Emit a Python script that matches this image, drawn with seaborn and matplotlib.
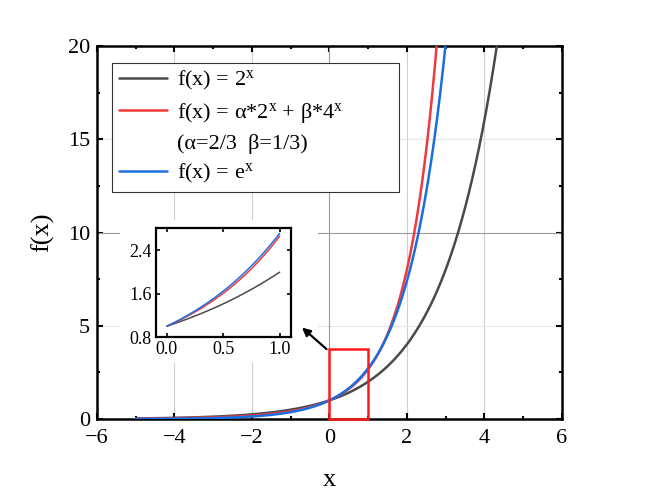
import numpy as np
import pandas as pd
import matplotlib
matplotlib.use("Agg")
import matplotlib.pyplot as plt
from matplotlib.patches import Rectangle
from matplotlib.lines import Line2D
import seaborn as sns

# ---- data ----
alpha = 2 / 3
beta = 1 / 3
x_range = [-5, 5]
inset_range = [0, 1]
series_names = ["2^x", "mix", "e^x"]
series_labels = [r"f(x) = 2$^{\mathrm{x}}$",
                 r"f(x) = α*2$^{\mathrm{x}}$ + β*4$^{\mathrm{x}}$",
                 r"f(x) = e$^{\mathrm{x}}$"]
param_label = "(α=2/3  β=1/3)"
series_colors = ["#4a4a4a", "#f0393c", "#1a6fe0"]
xticks_main = [-6, -4, -2, 0, 2, 4, 6]
yticks_main = [0, 5, 10, 15, 20]
xticks_inset = [0.0, 0.5, 1.0]
yticks_inset = [0.8, 1.6, 2.4]
zoom_box = [0, 0, 1, 3.75]  # x0, y0, width, height


def funcs(x):
    return {"2^x": 2.0 ** x,
            "mix": alpha * 2.0 ** x + beta * 4.0 ** x,
            "e^x": np.exp(x)}


xs = np.linspace(x_range[0], x_range[1], 1001)
xi = np.linspace(inset_range[0], inset_range[1], 201)
f_main = funcs(xs)
f_ins = funcs(xi)

sns.set_style("ticks")
plt.rcParams["font.family"] = ["Liberation Serif", "DejaVu Serif"]
plt.rcParams["mathtext.fontset"] = "custom"
plt.rcParams["mathtext.rm"] = "Liberation Serif"
plt.rcParams["mathtext.it"] = "Liberation Serif:italic"
plt.rcParams["mathtext.bf"] = "Liberation Serif:bold"
plt.rcParams["axes.unicode_minus"] = True
for k in ["axes.edgecolor", "xtick.color", "ytick.color", "axes.labelcolor",
          "text.color"]:
    plt.rcParams[k] = "black"

fig = plt.figure(figsize=(6.51, 4.91), dpi=100)
ax = fig.add_axes([0.149, 0.1466, 0.714, 0.7597])

# grid
for gx in [-4, -2, 2, 4]:
    ax.axvline(gx, color="#cfcfcf", lw=0.8, zorder=0.5)
for gy in [5, 15]:
    ax.axhline(gy, color="#e6e6e6", lw=0.8, zorder=0.5)
ax.axvline(0, color="#9a9a9a", lw=0.8, zorder=0.6)
ax.axhline(10, color="#9a9a9a", lw=0.8, zorder=0.6)

# white patch behind inset (hides grid lines)
ax.add_patch(Rectangle((120 / 651, 1 - 363 / 491), 198 / 651, 143 / 491,
                       transform=fig.transFigure, facecolor="white",
                       edgecolor="none", zorder=1.5, clip_on=False))

for name, lab, col in zip(series_names, series_labels, series_colors):
    sns.lineplot(x=xs, y=f_main[name], ax=ax, color=col, lw=1.8, label=lab, zorder=3)

ax.set_xlim(-6, 6)
ax.set_ylim(0, 20)
ax.set_xticks(xticks_main)
ax.set_yticks(yticks_main)
ax.set_xticks(np.arange(-5, 6, 2), minor=True)
ax.set_yticks(np.arange(2.5, 20, 5), minor=True)
ax.tick_params(which="both", direction="in", top=True, right=True, width=1.5,
               labelsize=16)
ax.tick_params(axis="x", which="major", pad=7)
ax.tick_params(axis="y", which="major", pad=5)
ax.tick_params(which="major", length=4.5)
ax.tick_params(which="minor", length=2.5)
for s in ax.spines.values():
    s.set_linewidth(1.8)
ax.set_xlabel("x", fontsize=19, labelpad=15)
ax.set_ylabel("f(x)", fontsize=19, labelpad=10)

# zoom rectangle
ax.add_patch(Rectangle((zoom_box[0], zoom_box[1]), zoom_box[2], zoom_box[3],
                       fill=False, edgecolor="#ff1a1a", lw=1.8, zorder=4,
                       clip_on=False))
ax.annotate("", xy=(-0.76, 5.0), xytext=(-0.02, 3.65),
            arrowprops=dict(arrowstyle="-|>", color="black", lw=1.6,
                            mutation_scale=12), zorder=5)

# legend
handles = [Line2D([], [], color=series_colors[0], lw=1.8),
           Line2D([], [], color=series_colors[1], lw=1.8),
           Line2D([], [], color="none", lw=0),
           Line2D([], [], color=series_colors[2], lw=1.8)]
labels = [series_labels[0], series_labels[1], param_label, series_labels[2]]
leg = ax.legend(handles, labels, loc="upper left",
                bbox_to_anchor=(0.032, 0.955, 0.617, 0.0), mode="expand",
                borderaxespad=0, fontsize=16, frameon=True, fancybox=False,
                framealpha=1, edgecolor="#333333", handlelength=2.2,
                handletextpad=0.45, labelspacing=0.38, borderpad=0.3)
leg.get_frame().set_linewidth(0.8)
leg.set_zorder(6)

# inset
axi = fig.add_axes([0.239, 0.3136, 0.208, 0.2214])
axi.set_zorder(7)
for name, col in zip(series_names, series_colors):
    sns.lineplot(x=xi, y=f_ins[name], ax=axi, color=col, lw=1.1)
axi.set_xlim(-0.1, 1.1)
axi.set_ylim(0.8, 2.81)
axi.set_xticks(xticks_inset)
axi.set_yticks(yticks_inset)
axi.set_xticklabels(["0.0", "0.5", "1.0"])
axi.set_yticklabels(["0.8", "1.6", "2.4"])
axi.tick_params(direction="in", top=True, right=True, width=1.2, length=3,
                labelsize=13, pad=3)
for s in axi.spines.values():
    s.set_linewidth(1.6)

fig.savefig("out.png", dpi=100)
